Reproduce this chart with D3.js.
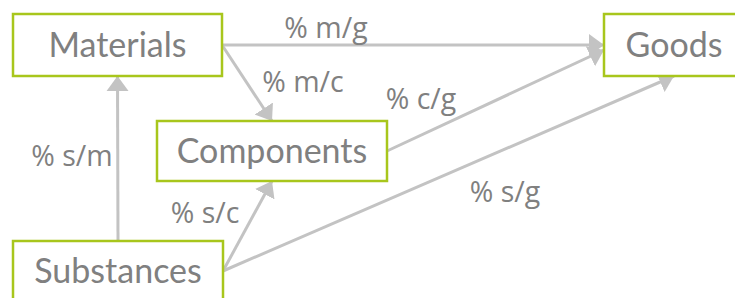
<!DOCTYPE html>
<html>
<head>
<meta charset="utf-8">
<script src="https://cdn.jsdelivr.net/npm/d3@7"></script>
<style>
  html, body { margin: 0; padding: 0; background: #fff; overflow: hidden; }
</style>
</head>
<body>
<div id="chart"></div>
<script>
// stages of the flow
const nodes = ['Materials', 'Components', 'Goods', 'Substances'];

// flows between stages: [source, target, label]
const edges = [
  ['Materials', 'Goods', '% m/g'],
  ['Materials', 'Components', '% m/c'],
  ['Components', 'Goods', '% c/g'],
  ['Substances', 'Goods', '% s/g'],
  ['Substances', 'Materials', '% s/m'],
  ['Substances', 'Components', '% s/c']
];

const width = 735, height = 298;

// box layout (x0, x1, y0, y1) in pixels
const boxes = {
  Materials:  { x0: 13,  x1: 222, y0: 14,  y1: 76 },
  Components: { x0: 157, x1: 387, y0: 121, y1: 181 },
  Goods:      { x0: 604, x1: 744, y0: 14,  y1: 76 },
  Substances: { x0: 13,  x1: 223, y0: 241, y1: 301 }
};

// where each flow leaves and enters its boxes
const ports = {
  'Materials>Goods':       ['right', 'left'],
  'Materials>Components':  ['right', 'top'],
  'Components>Goods':      ['right', 'leftLow'],
  'Substances>Goods':      ['right', 'bottom'],
  'Substances>Materials':  ['top', 'bottom'],
  'Substances>Components': ['right', 'bottom']
};

// label anchor (centre x, baseline y)
const labelPos = {
  '% m/g': [326, 38],
  '% m/c': [303, 92],
  '% c/g': [421, 109],
  '% s/g': [505, 202],
  '% s/m': [72, 166],
  '% s/c': [205, 223]
};

const green = '#a8c61c';
const lineGrey = '#c3c3c3';
const textGrey = '#808080';

function port(b, side) {
  const cx = (b.x0 + b.x1) / 2, cy = (b.y0 + b.y1) / 2;
  if (side === 'right') return [b.x1, cy];
  if (side === 'left') return [b.x0, cy];
  if (side === 'leftLow') return [b.x0, cy + 5];
  if (side === 'top') return [cx, b.y0];
  return [cx, b.y1];
}

const svg = d3.select('#chart')
  .append('svg')
  .attr('width', width)
  .attr('height', height);

svg.append('defs').append('marker')
  .attr('id', 'arrow')
  .attr('markerUnits', 'userSpaceOnUse')
  .attr('viewBox', '0 -12 16 24')
  .attr('refX', 15)
  .attr('refY', 0)
  .attr('markerWidth', 16)
  .attr('markerHeight', 24)
  .attr('orient', 'auto')
  .append('path')
  .attr('d', 'M0,-11L15,0L0,11Z')
  .attr('fill', lineGrey);

const ed_da = edges.map(([s, t, label]) => {
  const [ps, pt] = ports[s + '>' + t];
  return { s, t, label, a: port(boxes[s], ps), b: port(boxes[t], pt) };
});

svg.selectAll('.edge')
  .data(ed_da)
  .enter()
  .append('line')
  .attr('class', 'edge')
  .attr('x1', d => d.a[0])
  .attr('y1', d => d.a[1])
  .attr('x2', d => d.b[0])
  .attr('y2', d => d.b[1])
  .attr('stroke', lineGrey)
  .attr('stroke-width', 3)
  .attr('marker-end', 'url(#arrow)');

const no_gr = svg.selectAll('.node')
  .data(nodes)
  .enter()
  .append('g')
  .attr('class', 'node');

no_gr.append('rect')
  .attr('x', d => boxes[d].x0)
  .attr('y', d => boxes[d].y0)
  .attr('width', d => boxes[d].x1 - boxes[d].x0)
  .attr('height', d => boxes[d].y1 - boxes[d].y0)
  .attr('fill', '#fff')
  .attr('stroke', green)
  .attr('stroke-width', 2.5);

no_gr.append('text')
  .attr('x', d => (boxes[d].x0 + boxes[d].x1) / 2)
  .attr('y', d => (boxes[d].y0 + boxes[d].y1) / 2 + 12)
  .attr('text-anchor', 'middle')
  .attr('font-family', 'Lato, sans-serif')
  .attr('font-size', 34)
  .attr('fill', textGrey)
  .text(d => d);

svg.selectAll('.label')
  .data(ed_da)
  .enter()
  .append('text')
  .attr('class', 'label')
  .attr('x', d => labelPos[d.label][0])
  .attr('y', d => labelPos[d.label][1])
  .attr('text-anchor', 'middle')
  .attr('font-family', '"Open Sans", sans-serif')
  .attr('font-size', 28.5)
  .attr('fill', textGrey)
  .text(d => d.label);
</script>
</body>
</html>
